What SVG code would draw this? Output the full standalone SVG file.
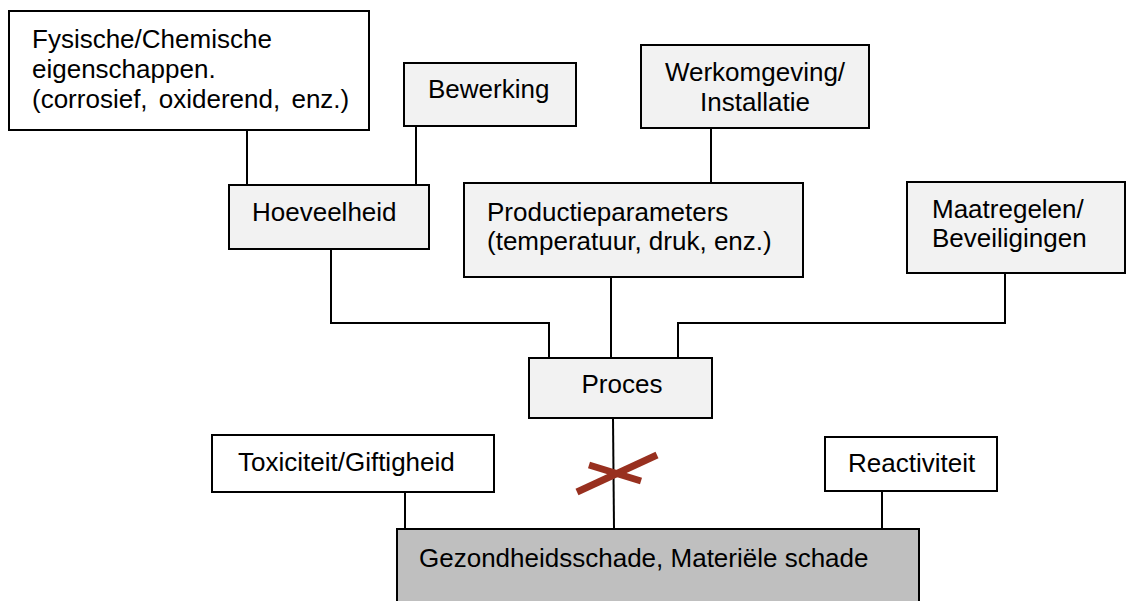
<svg xmlns="http://www.w3.org/2000/svg" width="1133" height="601" viewBox="0 0 1133 601">
<style>
  .box { stroke: #000; stroke-width: 2; }
  .w { fill: #ffffff; }
  .g { fill: #f2f2f2; }
  .d { fill: #bfbfbf; }
  text { font-family: "Liberation Sans", Arial, sans-serif; font-size: 26px; fill: #000; }
  .conn { fill: none; stroke: #000; stroke-width: 2; }
  .cross { stroke: #98301f; stroke-width: 7; fill: none; }
</style>
<rect width="1133" height="601" fill="#ffffff"/>
<g id="connectors">
  <path class="conn" d="M247 130 V185"/>
  <path class="conn" d="M416 126 V185"/>
  <path class="conn" d="M711 128 V183"/>
  <path class="conn" d="M331 249 V323 H549 V358"/>
  <path class="conn" d="M611 277 V358"/>
  <path class="conn" d="M1005 273 V323 H678 V358"/>
  <path class="conn" d="M613 418 L614 529"/>
  <path class="conn" d="M405 492 V529"/>
  <path class="conn" d="M882 491 V529"/>
</g>
<g id="fysische">
  <rect class="box w" x="9" y="11" width="360" height="119"/>
  <text x="32" y="48">Fysische/Chemische</text>
  <text x="32" y="78">eigenschappen.</text>
  <text x="32" y="108" word-spacing="4">(corrosief, oxiderend, enz.)</text>
</g>
<g id="bewerking">
  <rect class="box g" x="404" y="63" width="172" height="63"/>
  <text x="428" y="98">Bewerking</text>
</g>
<g id="werkomgeving">
  <rect class="box g" x="641" y="45" width="228" height="83"/>
  <text x="755" y="81" text-anchor="middle">Werkomgeving/</text>
  <text x="755" y="111" text-anchor="middle">Installatie</text>
</g>
<g id="hoeveelheid">
  <rect class="box g" x="229" y="185" width="200" height="64"/>
  <text x="252" y="221">Hoeveelheid</text>
</g>
<g id="productieparameters">
  <rect class="box g" x="464" y="183" width="339" height="94"/>
  <text x="487" y="221">Productieparameters</text>
  <text x="487" y="250">(temperatuur, druk, enz.)</text>
</g>
<g id="maatregelen">
  <rect class="box g" x="907" y="182" width="218" height="91"/>
  <text x="932" y="218">Maatregelen/</text>
  <text x="932" y="247">Beveiligingen</text>
</g>
<g id="proces">
  <rect class="box g" x="529" y="358" width="183" height="60"/>
  <text x="622" y="393" text-anchor="middle">Proces</text>
</g>
<g id="toxiciteit">
  <rect class="box w" x="212" y="435" width="282" height="57"/>
  <text x="238" y="471">Toxiciteit/Giftigheid</text>
</g>
<g id="reactiviteit">
  <rect class="box w" x="825" y="437" width="172" height="54"/>
  <text x="848" y="472">Reactiviteit</text>
</g>
<g id="gezondheidsschade">
  <rect class="box d" x="397" y="529" width="522" height="90"/>
  <text x="419" y="567">Gezondheidsschade, Materiële schade</text>
</g>
<g id="blocked">
  <line class="cross" x1="577" y1="492" x2="657" y2="455"/>
  <line class="cross" x1="589" y1="465" x2="641" y2="481"/>
</g>
</svg>
